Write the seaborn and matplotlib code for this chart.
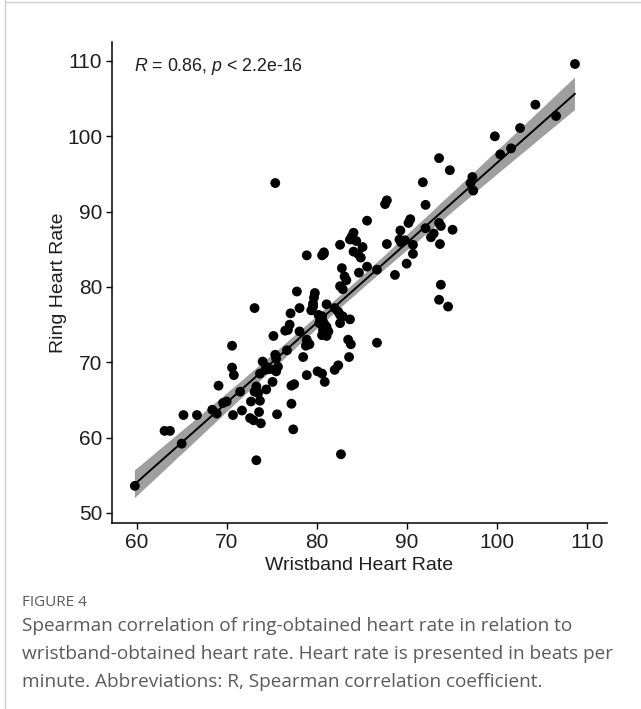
import matplotlib
matplotlib.use("Agg")
import matplotlib.pyplot as plt
from matplotlib.lines import Line2D
import numpy as np
import pandas as pd
import seaborn as sns

# ---- data ----
wristband = [
    108.7, 106.6, 104.3, 102.6, 99.8, 101.6, 100.4, 93.6, 94.8, 91.8,
    97.3, 97.1, 97.4, 92.1, 92.1, 93.6, 93.8, 95.1, 93.0, 92.7,
    93.7, 93.8, 93.6, 94.6, 87.8, 87.6, 85.6, 90.4, 90.2, 89.3,
    84.1, 83.9, 84.4, 83.7, 82.6, 87.8, 89.2, 89.8, 89.4, 90.7,
    85.1, 84.1, 84.6, 84.9, 90.7, 90.0, 82.8, 83.1, 84.7, 85.6,
    86.7, 88.7, 80.8, 83.3, 82.6, 82.9, 81.1, 82.0, 77.8, 79.8,
    79.7, 79.6, 79.6, 79.4, 82.4, 78.1, 77.1, 80.2, 80.6, 80.4,
    80.7, 80.3, 80.9, 82.6, 82.9, 83.7, 82.6, 81.1, 80.7, 81.3,
    80.6, 81.1, 77.0, 76.5, 76.8, 75.2, 78.1, 78.9, 79.2, 78.8,
    83.5, 83.8, 86.7, 75.4, 75.5, 78.5, 83.6, 74.0, 74.4, 74.3,
    74.8, 75.7, 75.5, 82.4, 82.0, 78.9, 80.1, 80.6, 73.7, 80.9,
    77.5, 77.2, 77.2, 77.4, 70.6, 70.8, 69.1, 73.3, 73.1, 73.5,
    73.7, 75.1, 74.4, 71.5, 70.0, 69.6, 68.4, 68.9, 72.7, 73.6,
    66.7, 70.7, 71.7, 72.6, 73.0, 73.8, 75.6, 73.3, 82.7, 65.2,
    63.1, 63.7, 65.0, 59.8, 73.1, 70.6, 76.7, 75.4, 78.9, 80.6,
    80.8,
]
ring = [
    109.6, 102.7, 104.2, 101.1, 100.0, 98.4, 97.6, 97.1, 95.5, 93.9,
    94.6, 93.8, 92.8, 90.9, 87.8, 88.5, 88.1, 87.6, 87.1, 86.6,
    85.7, 80.3, 78.3, 77.4, 91.5, 91.0, 88.8, 89.0, 88.5, 87.5,
    87.2, 86.7, 86.1, 86.3, 85.6, 85.7, 86.3, 86.2, 85.9, 85.6,
    85.3, 84.7, 84.4, 83.9, 84.4, 83.1, 82.5, 81.4, 81.9, 82.7,
    82.3, 81.6, 84.4, 80.9, 80.1, 79.7, 77.7, 77.2, 79.4, 79.2,
    78.6, 77.8, 77.4, 76.9, 76.7, 77.2, 76.5, 76.3, 76.1, 75.6,
    75.4, 75.2, 75.0, 76.3, 76.1, 75.7, 75.2, 74.7, 74.3, 74.1,
    73.6, 73.5, 75.0, 74.2, 74.3, 73.5, 74.1, 73.0, 72.4, 72.2,
    73.0, 72.4, 72.6, 71.0, 70.5, 70.7, 70.7, 70.1, 69.4, 69.0,
    69.1, 69.4, 68.8, 69.6, 69.0, 68.3, 68.8, 68.5, 68.5, 67.4,
    67.1, 66.9, 64.5, 61.1, 69.3, 68.3, 66.9, 66.8, 66.1, 65.9,
    64.9, 67.4, 66.4, 66.1, 64.8, 64.6, 63.7, 63.2, 64.8, 63.4,
    63.0, 63.0, 63.6, 62.6, 62.3, 61.9, 63.1, 57.0, 57.8, 63.0,
    60.9, 60.9, 59.2, 53.6, 77.2, 72.2, 71.6, 93.8, 84.2, 84.2,
    84.6,
]
x_ticks = [60, 70, 80, 90, 100, 110]
y_ticks = [50, 60, 70, 80, 90, 100, 110]
x_label = "Wristband Heart Rate"
y_label = "Ring Heart Rate"
stat_text = r"$R$ = 0.86, $p$ < 2.2e-16"
fig_label = "FIGURE 4"
caption_lines = [
    "Spearman correlation of ring-obtained heart rate in relation to",
    "wristband-obtained heart rate. Heart rate is presented in beats per",
    "minute. Abbreviations: R, Spearman correlation coefficient.",
]

df = pd.DataFrame({"wristband": wristband, "ring": ring})

sns.set_style("ticks")
plt.rcParams["font.family"] = ["Liberation Sans", "DejaVu Sans"]
plt.rcParams["mathtext.fontset"] = "custom"
plt.rcParams["mathtext.rm"] = "Liberation Sans"
plt.rcParams["mathtext.it"] = "Liberation Sans:italic"

W, H = 641, 709
fig = plt.figure(figsize=(W / 100, H / 100), dpi=100)
ax = fig.add_axes([112 / W, 1 - 523 / H, (607 - 112) / W, (523 - 42) / H])

sns.regplot(
    data=df, x="wristband", y="ring", ax=ax, ci=95, seed=4, n_boot=2000,
    scatter_kws=dict(s=50, color="black", edgecolor="none", alpha=1, zorder=3),
    line_kws=dict(color="black", lw=1.4, zorder=4),
)
for coll in ax.collections:
    if isinstance(coll, matplotlib.collections.PolyCollection):
        coll.set_facecolor("#7f7f7f")
        coll.set_alpha(0.75)
        coll.set_zorder(2)
        coll.set_edgecolor("none")

ax.set_xlim(57.26, 112.26)
ax.set_ylim(48.67, 112.52)
ax.set_xticks(x_ticks)
ax.set_yticks(y_ticks)
ax.tick_params(axis="both", labelsize=15, colors="black", length=4, width=1,
               labelcolor="#1e1e1e", pad=3)
for side in ["top", "right"]:
    ax.spines[side].set_visible(False)
for side in ["left", "bottom"]:
    ax.spines[side].set_linewidth(1.1)
    ax.spines[side].set_color("black")
ax.set_xlabel(x_label, fontsize=14, color="#1e1e1e", labelpad=3.5)
ax.set_ylabel(y_label, fontsize=14, color="#1e1e1e", labelpad=0)

ax.text(0.045, 0.95, stat_text, transform=ax.transAxes, fontsize=12.8,
        ha="left", va="center", color="#1e1e1e")

# caption
fig.text(22 / W, 1 - 603 / H, fig_label, fontsize=11, color="#5a5a5a",
         family=["Open Sans", "DejaVu Sans"], va="center", ha="left")
for i, line in enumerate(caption_lines):
    fig.text(22 / W, 1 - (626 + 28 * i) / H, line, fontsize=13.7,
             color="#5a5a5a", family=["Open Sans", "DejaVu Sans"],
             va="center", ha="left")

# page frame lines
fig.add_artist(Line2D([5 / W, 5 / W], [0, 1], transform=fig.transFigure,
                      color="#cfcfcf", lw=1))
fig.add_artist(Line2D([5 / W, 1], [1 - 2 / H, 1 - 2 / H], transform=fig.transFigure,
                      color="#cfcfcf", lw=1))

fig.savefig("out.png", dpi=100)
